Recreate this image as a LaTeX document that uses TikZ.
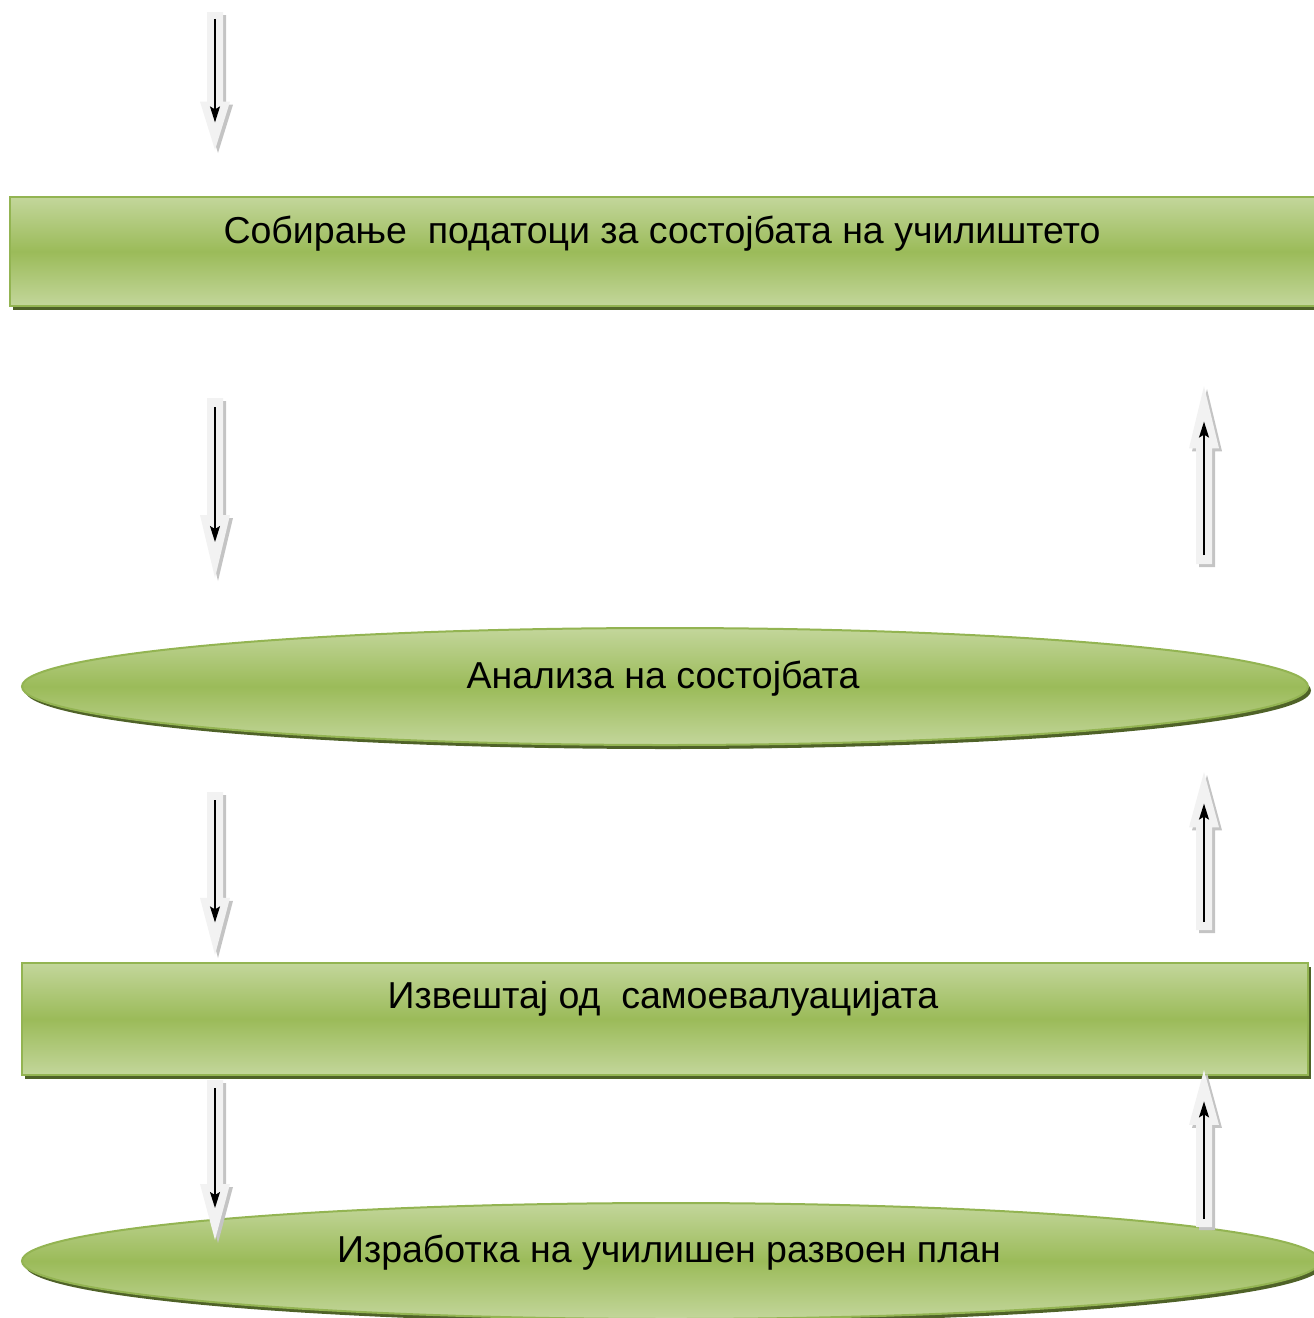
\documentclass[tikz,border=0pt]{standalone}
\usepackage{fontspec}
\setmainfont{Liberation Sans}
\usetikzlibrary{arrows.meta,shadows,shapes.geometric}

\definecolor{gtop}{HTML}{C3D69B}
\definecolor{gmid}{HTML}{9BBB59}
\definecolor{gedge}{HTML}{93B452}
\definecolor{gshadow}{HTML}{4F6228}
\definecolor{afill}{HTML}{F2F2F2}
\definecolor{ashadow}{HTML}{C4C4C4}

\tikzset{
  stage/.style={draw=gedge, line width=2pt, inner sep=0pt,
    top color=gtop, bottom color=gtop, middle color=gmid,
    drop shadow={shadow xshift=3pt, shadow yshift=-4pt, fill=gshadow, opacity=1}},
  box/.style={stage, rectangle},
  oval/.style={stage, ellipse},
  caption/.style={font=\fontsize{37.5}{44}\selectfont, text=black},
  thin arrow/.style={line width=1.5pt, -{Stealth[length=16pt,width=10pt,inset=3pt]}}
}

% block arrow: x, tail y, tip y
\newcommand{\blockarrow}[3]{%
  \pgfmathsetmacro{\hb}{#3-0.35*(#3-#2)}
  \pgfmathsetmacro{\ta}{#2+0.05*(#3-#2)}
  \pgfmathsetmacro{\tb}{#3-0.2*(#3-#2)}
  \fill[ashadow, shift={(3,3)}] (#1-8,#2) -- (#1+8,#2) -- (#1+8,\hb) -- (#1+15,\hb)
    -- (#1,#3) -- (#1-15,\hb) -- (#1-8,\hb) -- cycle;
  \fill[afill] (#1-8,#2) -- (#1+8,#2) -- (#1+8,\hb) -- (#1+15,\hb)
    -- (#1,#3) -- (#1-15,\hb) -- (#1-8,\hb) -- cycle;
  \draw[thin arrow] (#1,\ta) -- (#1,\tb);
}

\begin{document}
\begin{tikzpicture}[x=1pt, y=-1pt]
    \clip (0,0) rectangle (1314,1318);

    % Stages
    \node[box, minimum width=1310, minimum height=109] (collect) at (665,251.5) {};
    \node[oval, minimum width=1286, minimum height=117] (analysis) at (665,686.5) {};
    \node[box, minimum width=1286, minimum height=112] (report) at (665,1019) {};
    \node[oval, minimum width=1298, minimum height=116] (plan) at (671,1261) {};

    % Captions
    \node[caption] (tcollect) at ([xshift=-3,yshift=18]collect.center) {Собирање\ \ податоци за состојбата на училиштето};
    \node[caption] (tanalysis) at ([xshift=-2,yshift=8]analysis.center) {Анализа на состојбата};
    \node[caption] (treport) at ([xshift=-2,yshift=20]report.center) {Извештај од\ \ самоевалуацијата};
    \node[caption] (tplan) at ([xshift=-2,yshift=8]plan.center) {Изработка на училишен развоен план};

    % Arrows down (left) and up (right)
    \foreach \x/\a/\b in {215/12/150, 215/398/578, 215/792/955, 215/1080/1240}
        {\blockarrow{\x}{\a}{\b}}
    \foreach \x/\a/\b in {1204/564/386, 1204/930/772, 1204/1227/1070}
        {\blockarrow{\x}{\a}{\b}}
\end{tikzpicture}
\end{document}
